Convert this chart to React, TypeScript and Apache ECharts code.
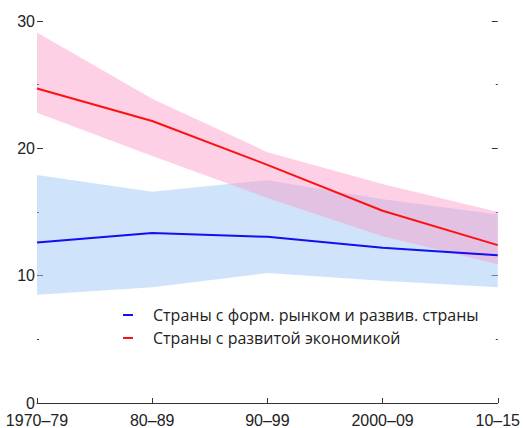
import React, { useEffect, useRef } from "react";
import * as echarts from "echarts";

const categories = ["1970–79", "80–89", "90–99", "2000–09", "10–15"];
const emergingName = "Страны с форм. рынком и развив. страны";
const advancedName = "Страны с развитой экономикой";
const emergingMedian = [12.6, 13.35, 13.05, 12.2, 11.6];
const emergingLow = [8.5, 9.1, 10.2, 9.6, 9.1];
const emergingHigh = [17.9, 16.6, 17.5, 16.0, 14.8];
const advancedMedian = [24.7, 22.15, 18.7, 15.1, 12.4];
const advancedLow = [22.8, 19.4, 16.1, 13.1, 10.9];
const advancedHigh = [29.1, 23.9, 19.7, 17.2, 15.0];
const yTicks = [0, 10, 20, 30];

const axisFont = "Liberation Sans";

export default function App() {
  const ref = useRef<HTMLDivElement>(null);
  useEffect(() => {
    if (!ref.current) return;
    const chart = echarts.init(ref.current, null, { renderer: "svg" });
    const diff = (hi: number[], lo: number[]) => hi.map((v, i) => +(v - lo[i]).toFixed(2));
    const yAxisBase = {
      type: "value" as const,
      min: 0,
      max: 30,
      interval: 10,
      axisLine: { show: false },
      splitLine: { show: false },
      axisTick: { show: true, inside: true, length: 6, lineStyle: { color: "#333" } },
      minorTick: { show: true, splitNumber: 2, length: 2, lineStyle: { color: "#333" } },
    };
    chart.setOption({
      animation: false,
      grid: { left: 37, right: 22, top: 21, bottom: 24, containLabel: false },
      legend: {
        orient: "vertical",
        left: 118,
        top: 302,
        itemGap: 7,
        itemWidth: 10,
        itemHeight: 2,
        icon: "rect",
        data: [emergingName, advancedName],
        textStyle: {
          fontFamily: "Open Sans",
          fontSize: 16,
          color: "#222",
          padding: [0, 0, 0, 15],
        },
      },
      xAxis: {
        type: "category",
        data: categories,
        boundaryGap: false,
        axisLine: { show: true, lineStyle: { color: "#333", width: 1 } },
        axisTick: { show: true, inside: true, length: 5, lineStyle: { color: "#333" } },
        axisLabel: { fontFamily: axisFont, fontSize: 16, color: "#222", margin: 9 },
        splitLine: { show: false },
      },
      yAxis: [
        {
          ...yAxisBase,
          position: "left",
          axisLabel: {
            fontFamily: axisFont,
            fontSize: 16,
            color: "#222",
            margin: 2,
            formatter: (v: number) => (yTicks.includes(v) ? String(v) : ""),
          },
        },
        {
          ...yAxisBase,
          position: "right",
          axisLabel: { show: false },
        },
      ],
      series: [
        {
          type: "line",
          name: "emLow",
          stack: "em",
          data: emergingLow,
          lineStyle: { opacity: 0 },
          symbol: "none",
          silent: true,
        },
        {
          type: "line",
          name: "emBand",
          stack: "em",
          data: diff(emergingHigh, emergingLow),
          lineStyle: { opacity: 0 },
          areaStyle: { color: "rgba(160,200,245,0.5)", opacity: 1 },
          symbol: "none",
          silent: true,
        },
        {
          type: "line",
          name: "adLow",
          stack: "ad",
          data: advancedLow,
          lineStyle: { opacity: 0 },
          symbol: "none",
          silent: true,
        },
        {
          type: "line",
          name: "adBand",
          stack: "ad",
          data: diff(advancedHigh, advancedLow),
          lineStyle: { opacity: 0 },
          areaStyle: { color: "rgba(250,150,200,0.45)", opacity: 1 },
          symbol: "none",
          silent: true,
        },
        {
          type: "line",
          name: emergingName,
          data: emergingMedian,
          symbol: "none",
          itemStyle: { color: "#1010f0" },
          lineStyle: { color: "#1010f0", width: 2 },
        },
        {
          type: "line",
          name: advancedName,
          data: advancedMedian,
          symbol: "none",
          itemStyle: { color: "#ff1010" },
          lineStyle: { color: "#ff1010", width: 2 },
        },
      ],
    });
    return () => chart.dispose();
  }, []);
  return <div ref={ref} style={{ width: 523, height: 428, position: "absolute", left: 0, top: 0 }} />;
}
